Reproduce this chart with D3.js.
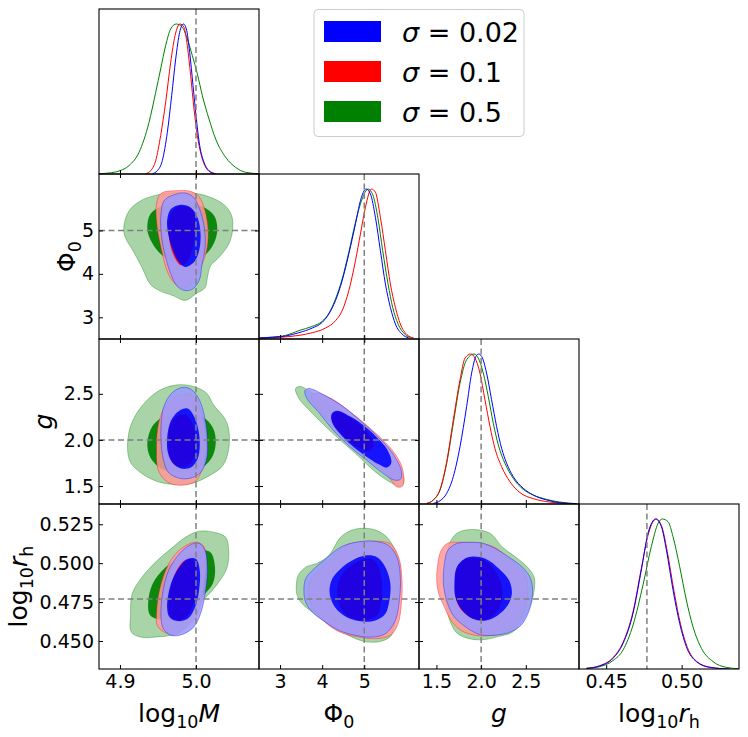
<!DOCTYPE html>
<html lang="en">

<head>
    <meta charset="UTF-8">
    <title>corner</title>
    <script src="https://cdn.jsdelivr.net/npm/d3@7/dist/d3.min.js"></script>
    <style>body { margin: 0; background: #fff; }</style>
</head>

<body>
    <svg width="748" height="737" id="mainsvg"></svg>
    <script>
        // axis limits, truth values and ticks per parameter
        const limits = [[4.8724, 5.0829], [2.50, 6.30], [1.305, 3.095], [0.432, 0.538]];
        const truths = [5.0, 5.0, 2.0, 0.477];
        const xTicks = [[4.9, 5.0], [3, 4, 5], [1.5, 2.0, 2.5], [0.45, 0.50]];
        const xTickLabels = [['4.9', '5.0'], ['3', '4', '5'], ['1.5', '2.0', '2.5'], ['0.45', '0.50']];
        const yTicks = [[], [3, 4, 5], [1.5, 2.0, 2.5], [0.450, 0.475, 0.500, 0.525]];
        const yTickLabels = [[], ['3', '4', '5'], ['1.5', '2.0', '2.5'], ['0.450', '0.475', '0.500', '0.525']];

        const sigmas = ['0.02', '0.1', '0.5'];
        const seriesKeys = ['blue', 'red', 'green'];

        // 1D marginals [value, normalised density]
        const margM = {
            blue: [[4.9426,0.002],[4.9492,0.022],[4.9557,0.089],[4.9623,0.278],[4.9680,0.522],[4.9733,0.767],[4.9785,0.944],[4.9834,1.0],[4.9873,0.967],[4.9917,0.811],[4.9961,0.589],[5.0005,0.367],[5.0049,0.189],[5.0106,0.078],[5.0171,0.022],[5.0259,0.002]],
            red: [[4.9338,0.002],[4.9404,0.022],[4.9470,0.089],[4.9535,0.256],[4.9601,0.478],[4.9667,0.744],[4.9724,0.922],[4.9790,1.0],[4.9842,0.978],[4.9886,0.856],[4.9930,0.656],[4.9974,0.433],[5.0018,0.256],[5.0084,0.1],[5.0149,0.029],[5.0237,0.002]],
            green: [[4.8724,0.002],[4.8856,0.007],[4.8987,0.02],[4.9119,0.056],[4.9250,0.144],[4.9382,0.344],[4.9470,0.544],[4.9535,0.700],[4.9601,0.856],[4.9667,0.967],[4.9742,1.0],[4.9820,0.978],[4.9886,0.9],[4.9952,0.789],[5.0018,0.667],[5.0084,0.522],[5.0171,0.367],[5.0259,0.233],[5.0391,0.111],[5.0522,0.044],[5.0654,0.011],[5.0829,0.002]]
        };
        const margPhi = {
            blue: [[2.500,0.007],[2.816,0.011],[3.132,0.02],[3.448,0.042],[3.764,0.073],[4.001,0.111],[4.159,0.167],[4.317,0.256],[4.475,0.389],[4.633,0.567],[4.791,0.767],[4.909,0.922],[5.043,1.0],[5.146,0.967],[5.265,0.811],[5.383,0.589],[5.502,0.367],[5.620,0.211],[5.739,0.1],[5.897,0.033],[6.055,0.007]],
            red: [[2.500,0.005],[2.974,0.011],[3.448,0.024],[3.764,0.042],[4.080,0.073],[4.317,0.122],[4.475,0.189],[4.633,0.322],[4.791,0.522],[4.909,0.7],[5.028,0.878],[5.170,1.0],[5.265,0.978],[5.383,0.811],[5.502,0.589],[5.620,0.367],[5.739,0.211],[5.857,0.1],[6.015,0.029],[6.173,0.007]],
            green: [[2.500,0.007],[2.816,0.013],[3.132,0.024],[3.448,0.056],[3.764,0.084],[4.001,0.118],[4.159,0.171],[4.317,0.267],[4.475,0.4],[4.633,0.578],[4.791,0.778],[4.949,0.933],[5.091,1.0],[5.202,0.962],[5.328,0.8],[5.438,0.589],[5.565,0.367],[5.675,0.211],[5.802,0.1],[5.960,0.033],[6.118,0.007]]
        };
        const margG = {
            blue: [[1.466,0.004],[1.541,0.022],[1.615,0.071],[1.689,0.183],[1.764,0.383],[1.838,0.650],[1.894,0.873],[1.942,0.984],[1.972,1.0],[2.006,0.984],[2.061,0.873],[2.117,0.695],[2.173,0.517],[2.229,0.372],[2.285,0.272],[2.359,0.183],[2.471,0.105],[2.582,0.060],[2.731,0.027],[2.880,0.009],[3.066,0.002]],
            red: [[1.392,0.004],[1.466,0.027],[1.541,0.098],[1.615,0.283],[1.689,0.561],[1.764,0.828],[1.820,0.973],[1.883,1.0],[1.931,0.973],[1.987,0.873],[2.043,0.695],[2.099,0.517],[2.154,0.372],[2.229,0.249],[2.322,0.149],[2.434,0.076],[2.582,0.036],[2.768,0.013],[2.954,0.004]],
            green: [[1.392,0.004],[1.466,0.027],[1.541,0.094],[1.615,0.272],[1.689,0.539],[1.764,0.806],[1.838,0.962],[1.920,1.0],[1.968,0.973],[2.024,0.873],[2.080,0.717],[2.136,0.539],[2.192,0.394],[2.266,0.272],[2.359,0.171],[2.471,0.098],[2.582,0.060],[2.731,0.031],[2.880,0.013],[3.066,0.002]]
        };
        const margRh = {
            blue: [[0.4369,0.004],[0.4457,0.02],[0.4545,0.071],[0.4612,0.171],[0.4678,0.371],[0.4733,0.66],[0.4777,0.904],[0.4828,1.0],[0.4866,0.949],[0.4899,0.793],[0.4943,0.527],[0.4987,0.304],[0.5031,0.149],[0.5098,0.049],[0.5186,0.011],[0.5318,0.0]],
            red: [[0.4369,0.004],[0.4457,0.022],[0.4545,0.076],[0.4612,0.178],[0.4678,0.382],[0.4733,0.671],[0.4782,0.909],[0.4832,1.0],[0.4870,0.944],[0.4905,0.782],[0.4950,0.516],[0.4994,0.293],[0.5038,0.144],[0.5104,0.047],[0.5193,0.011],[0.5318,0.0]],
            green: [[0.4369,0.004],[0.4457,0.016],[0.4545,0.056],[0.4612,0.127],[0.4678,0.293],[0.4744,0.56],[0.4799,0.816],[0.4844,0.971],[0.4872,1.0],[0.4910,0.982],[0.4943,0.882],[0.4987,0.682],[0.5031,0.46],[0.5075,0.282],[0.5131,0.138],[0.5208,0.049],[0.5296,0.011],[0.5378,0.002]]
        };

        // 2D contours, 2 = 95% level, 1 = 68% level
        const cMPhi = {
            green2: [[4.905,5.068],[4.912,5.453],[4.929,5.700],[4.960,5.853],[4.995,5.861],[5.017,5.777],[5.037,5.592],[5.047,5.338],[5.048,4.991],[5.043,4.683],[5.030,4.375],[5.019,4.183],[5.015,3.914],[5.012,3.683],[5.000,3.544],[4.986,3.390],[4.971,3.490],[4.951,3.621],[4.940,3.760],[4.929,4.144],[4.916,4.568],[4.907,4.837]],
            green1: [[4.936,5.030],[4.940,5.376],[4.954,5.553],[4.982,5.607],[5.008,5.553],[5.024,5.338],[5.028,5.030],[5.024,4.722],[5.013,4.452],[4.995,4.283],[4.969,4.283],[4.954,4.452],[4.942,4.722]],
            red2: [[4.948,5.607],[4.954,5.853],[4.973,5.915],[4.993,5.900],[5.004,5.777],[5.012,5.453],[5.016,4.991],[5.014,4.529],[5.006,4.144],[4.997,3.837],[4.984,3.667],[4.971,3.798],[4.962,4.068],[4.955,4.529],[4.949,5.068]],
            red1: [[4.965,5.299],[4.973,5.520],[4.986,5.560],[4.996,5.453],[4.999,5.068],[4.996,4.606],[4.988,4.270],[4.980,4.200],[4.972,4.376],[4.965,4.760]],
            blue2: [[4.954,5.376],[4.958,5.684],[4.971,5.823],[4.986,5.861],[4.997,5.761],[5.004,5.530],[5.011,5.068],[5.012,4.606],[5.008,4.222],[5.004,3.837],[4.995,3.644],[4.984,3.621],[4.975,3.721],[4.967,3.991],[4.958,4.529],[4.954,4.991]],
            blue1: [[4.962,5.222],[4.967,5.492],[4.980,5.592],[4.993,5.530],[5.002,5.299],[5.006,4.914],[5.004,4.529],[4.997,4.260],[4.986,4.160],[4.978,4.260],[4.970,4.529],[4.964,4.876]]
        };
        const cMg = {
            green2: [[4.910,1.899],[4.914,2.153],[4.929,2.370],[4.951,2.533],[4.973,2.595],[4.993,2.588],[5.013,2.515],[5.024,2.370],[5.037,2.244],[5.043,2.117],[5.043,1.899],[5.035,1.718],[5.017,1.610],[4.995,1.530],[4.969,1.519],[4.947,1.555],[4.927,1.646],[4.914,1.754]],
            green1: [[4.936,1.972],[4.943,2.153],[4.958,2.254],[4.982,2.291],[5.008,2.254],[5.022,2.135],[5.026,1.990],[5.022,1.827],[5.008,1.700],[4.982,1.646],[4.956,1.682],[4.940,1.809]],
            red2: [[4.948,1.899],[4.951,2.189],[4.960,2.370],[4.975,2.479],[4.989,2.497],[5.000,2.443],[5.006,2.316],[5.012,2.117],[5.013,1.863],[5.008,1.682],[5.000,1.555],[4.986,1.512],[4.969,1.519],[4.958,1.573],[4.950,1.682]],
            red1: [[4.964,1.972],[4.966,2.153],[4.975,2.255],[4.986,2.275],[4.994,2.207],[4.999,2.044],[4.999,1.863],[4.993,1.745],[4.982,1.705],[4.971,1.735],[4.965,1.827]],
            blue2: [[4.954,2.153],[4.958,2.370],[4.969,2.515],[4.982,2.570],[4.993,2.552],[5.004,2.443],[5.012,2.225],[5.015,2.008],[5.014,1.791],[5.006,1.646],[4.995,1.591],[4.980,1.581],[4.964,1.646],[4.956,1.827]],
            blue1: [[4.962,2.008],[4.967,2.207],[4.978,2.316],[4.989,2.341],[4.997,2.262],[5.003,2.117],[5.005,1.936],[5.002,1.791],[4.993,1.700],[4.980,1.689],[4.969,1.754],[4.963,1.863]]
        };
        const cMrh = {
            green2: [[4.914,0.4675],[4.916,0.4803],[4.929,0.4910],[4.949,0.5017],[4.967,0.5092],[4.986,0.5166],[5.004,0.5205],[5.024,0.5198],[5.039,0.5166],[5.043,0.5081],[5.041,0.4974],[5.030,0.4878],[5.013,0.4782],[5.002,0.4739],[4.991,0.4621],[4.973,0.4547],[4.947,0.4525],[4.927,0.4525],[4.915,0.4557]],
            green1: [[4.937,0.4739],[4.943,0.4867],[4.960,0.4974],[4.982,0.5038],[5.004,0.5081],[5.019,0.5070],[5.025,0.4974],[5.022,0.4867],[5.008,0.4782],[4.995,0.4696],[4.978,0.4643],[4.956,0.4636],[4.940,0.4664]],
            red2: [[4.948,0.4654],[4.951,0.4803],[4.960,0.4953],[4.973,0.5059],[4.991,0.5124],[5.002,0.5134],[5.011,0.5102],[5.013,0.5006],[5.011,0.4867],[5.006,0.4739],[5.000,0.4654],[4.986,0.4579],[4.971,0.4542],[4.958,0.4557],[4.949,0.4600]],
            red1: [[4.964,0.4718],[4.968,0.4867],[4.976,0.4965],[4.986,0.5020],[4.996,0.5020],[5.001,0.4953],[5.000,0.4824],[4.995,0.4718],[4.986,0.4650],[4.973,0.4636],[4.966,0.4660]],
            blue2: [[4.954,0.4654],[4.956,0.4803],[4.964,0.4953],[4.978,0.5059],[4.993,0.5119],[5.004,0.5128],[5.012,0.5081],[5.015,0.4953],[5.012,0.4803],[5.006,0.4675],[4.997,0.4589],[4.982,0.4542],[4.967,0.4536],[4.957,0.4579]],
            blue1: [[4.962,0.4718],[4.967,0.4867],[4.978,0.4974],[4.989,0.5027],[5.000,0.5027],[5.005,0.4953],[5.004,0.4824],[4.999,0.4718],[4.989,0.4643],[4.975,0.4628],[4.965,0.4654]]
        };
        const cPhig = {
            green2: [[3.369,2.559],[3.487,2.581],[3.685,2.533],[4.080,2.425],[4.475,2.298],[4.870,2.153],[5.265,1.972],[5.660,1.791],[5.897,1.646],[5.936,1.537],[5.818,1.501],[5.620,1.540],[5.265,1.653],[4.870,1.820],[4.475,1.979],[4.080,2.146],[3.685,2.327],[3.448,2.450]],
            green1: [[4.356,2.244],[4.633,2.225],[4.949,2.146],[5.265,2.026],[5.502,1.881],[5.541,1.772],[5.344,1.772],[5.028,1.845],[4.712,1.954],[4.435,2.081],[4.333,2.171]],
            red2: [[3.748,2.486],[3.882,2.508],[4.238,2.443],[4.633,2.316],[5.028,2.171],[5.423,2.008],[5.739,1.845],[5.912,1.682],[5.912,1.501],[5.778,1.490],[5.581,1.602],[5.265,1.747],[4.870,1.907],[4.475,2.073],[4.080,2.254],[3.803,2.388]],
            red1: [[4.238,2.269],[4.356,2.305],[4.633,2.251],[4.909,2.160],[5.146,2.044],[5.225,1.936],[5.107,1.881],[4.870,1.917],[4.593,2.008],[4.254,2.189]],
            blue2: [[3.590,2.533],[3.685,2.559],[4.080,2.479],[4.475,2.370],[4.870,2.225],[5.265,2.062],[5.660,1.863],[5.881,1.664],[5.857,1.573],[5.699,1.566],[5.423,1.646],[5.028,1.791],[4.633,1.936],[4.238,2.117],[3.922,2.298],[3.645,2.443]],
            blue1: [[4.222,2.280],[4.356,2.316],[4.633,2.262],[4.949,2.171],[5.265,2.044],[5.541,1.899],[5.644,1.754],[5.541,1.700],[5.344,1.736],[5.028,1.827],[4.712,1.936],[4.396,2.081],[4.238,2.189]]
        };
        const cPhirh = {
            green2: [[3.385,0.4846],[3.432,0.4921],[3.606,0.4974],[3.882,0.5000],[4.159,0.5049],[4.435,0.5166],[4.712,0.5213],[5.028,0.5224],[5.304,0.5209],[5.541,0.5166],[5.739,0.5081],[5.857,0.4974],[5.857,0.4846],[5.818,0.4739],[5.739,0.4632],[5.644,0.4536],[5.423,0.4500],[5.107,0.4493],[4.791,0.4515],[4.475,0.4557],[4.080,0.4621],[3.764,0.4686],[3.527,0.4739],[3.408,0.4792]],
            green1: [[4.45,0.482],[4.55,0.492],[4.75,0.499],[5.05,0.501],[5.30,0.495],[5.38,0.482],[5.30,0.469],[5.05,0.464],[4.75,0.465],[4.55,0.472]],
            red2: [[3.669,0.4824],[3.724,0.4889],[3.922,0.4953],[4.238,0.5038],[4.554,0.5113],[4.870,0.5134],[5.265,0.5141],[5.620,0.5124],[5.818,0.5038],[5.897,0.4889],[5.881,0.4739],[5.802,0.4611],[5.620,0.4536],[5.265,0.4515],[4.870,0.4525],[4.475,0.4551],[4.159,0.4600],[3.882,0.4675],[3.724,0.4750]],
            red1: [[4.356,0.4814],[4.435,0.4910],[4.633,0.4974],[4.909,0.5017],[5.186,0.5027],[5.344,0.4974],[5.423,0.4867],[5.407,0.4750],[5.304,0.4664],[5.028,0.4636],[4.712,0.4646],[4.475,0.4696]],
            blue2: [[3.566,0.4824],[3.606,0.4899],[3.764,0.4953],[4.080,0.5027],[4.435,0.5102],[4.791,0.5134],[5.225,0.5141],[5.581,0.5113],[5.778,0.5038],[5.857,0.4910],[5.833,0.4760],[5.739,0.4632],[5.502,0.4547],[5.186,0.4525],[4.791,0.4536],[4.396,0.4568],[4.080,0.4621],[3.764,0.4686],[3.606,0.4750]],
            blue1: [[4.175,0.4814],[4.238,0.4899],[4.435,0.4963],[4.712,0.5017],[5.028,0.5049],[5.304,0.5038],[5.502,0.4974],[5.620,0.4867],[5.596,0.4760],[5.502,0.4675],[5.265,0.4632],[4.870,0.4628],[4.514,0.4664],[4.277,0.4728]]
        };
        const cGrh = {
            green2: [[1.589,0.4889],[1.608,0.5006],[1.645,0.5124],[1.719,0.5188],[1.831,0.5213],[1.980,0.5213],[2.110,0.5188],[2.240,0.5102],[2.389,0.5038],[2.519,0.4974],[2.593,0.4910],[2.593,0.4824],[2.556,0.4739],[2.463,0.4632],[2.352,0.4557],[2.203,0.4530],[2.017,0.4508],[1.868,0.4515],[1.738,0.4547],[1.663,0.4611],[1.608,0.4739]],
            green1: [[1.74,0.484],[1.78,0.496],[1.90,0.502],[2.03,0.500],[2.15,0.490],[2.20,0.478],[2.15,0.468],[2.02,0.464],[1.88,0.466],[1.77,0.474]],
            red2: [[1.503,0.4889],[1.515,0.4995],[1.552,0.5081],[1.626,0.5128],[1.756,0.5134],[1.980,0.5128],[2.147,0.5102],[2.296,0.5038],[2.426,0.4974],[2.508,0.4899],[2.519,0.4803],[2.482,0.4696],[2.407,0.4611],[2.277,0.4557],[2.128,0.4536],[1.942,0.4536],[1.775,0.4568],[1.663,0.4632],[1.589,0.4718],[1.526,0.4803]],
            red1: [[1.708,0.4856],[1.724,0.4960],[1.800,0.5018],[1.905,0.5034],[2.035,0.5018],[2.147,0.4960],[2.221,0.4878],[2.240,0.4792],[2.195,0.4707],[2.091,0.4645],[1.942,0.4638],[1.794,0.4690],[1.722,0.4762]],
            blue2: [[1.578,0.4867],[1.589,0.4995],[1.626,0.5081],[1.719,0.5124],[1.868,0.5134],[2.017,0.5128],[2.166,0.5092],[2.314,0.5038],[2.463,0.4974],[2.556,0.4899],[2.575,0.4803],[2.538,0.4696],[2.445,0.4600],[2.296,0.4551],[2.128,0.4536],[1.980,0.4542],[1.831,0.4589],[1.701,0.4654],[1.626,0.4739]],
            blue1: [[1.701,0.4867],[1.727,0.4974],[1.812,0.5027],[1.905,0.5042],[2.054,0.5027],[2.203,0.4963],[2.314,0.4889],[2.344,0.4803],[2.296,0.4728],[2.184,0.4664],[2.054,0.4632],[1.905,0.4643],[1.775,0.4707],[1.712,0.4782]]
        };

        const marginals = [margM, margPhi, margG, margRh];
        const contours = { '1,0': cMPhi, '2,0': cMg, '3,0': cMrh, '2,1': cPhig, '3,1': cPhirh, '3,2': cGrh };

        const lineColor = { blue: '#0000ff', red: '#ff0000', green: '#008000' };
        const lightColor = { blue: '#9999ff', red: '#ff9999', green: '#99cc99' };
        // fill order: green, red outer, blue outer, red inner, blue inner
        const layers = ['green2', 'green1', 'red2', 'blue2', 'red1', 'blue1'];

        const svg = d3.select('#mainsvg');
        const left0 = 99, top0 = 9, pw = 160, ph = 165;
        const font = 'DejaVu Sans, sans-serif';

        const xs = limits.map((d, i) => d3.scaleLinear().domain(d).range([left0 + i * pw, left0 + (i + 1) * pw]));
        const ys = limits.map((d, j) => d3.scaleLinear().domain(d).range([top0 + (j + 1) * ph, top0 + j * ph]));
        const yMarg = j => d3.scaleLinear().domain([0, 1.1]).range([top0 + (j + 1) * ph, top0 + j * ph]);

        const defs = svg.append('defs');

        function dashed(g, x1, y1, x2, y2) {
            g.append('line').attr('x1', x1).attr('y1', y1).attr('x2', x2).attr('y2', y2)
                .attr('stroke', '#808080').attr('stroke-width', 1.5).attr('stroke-dasharray', '6,3.5');
        }

        for (let j = 0; j < 4; j++) {
            for (let i = 0; i <= j; i++) {
                const x = xs[i];
                const px0 = left0 + i * pw, py0 = top0 + j * ph;
                defs.append('clipPath').attr('id', `clip${i}${j}`)
                    .append('rect').attr('x', px0).attr('y', py0).attr('width', pw).attr('height', ph);
                const g = svg.append('g').attr('clip-path', `url(#clip${i}${j})`);

                if (i === j) {
                    // 1D marginal
                    const y = yMarg(j);
                    const line = d3.line().x(d => x(d[0])).y(d => y(d[1])).curve(d3.curveMonotoneX);
                    ['green', 'red', 'blue'].forEach(k => {
                        g.append('path').attr('d', line(marginals[i][k]))
                            .attr('fill', 'none').attr('stroke', lineColor[k]).attr('stroke-width', 1);
                    });
                    dashed(g, x(truths[i]), py0, x(truths[i]), py0 + ph);
                } else {
                    const y = ys[j];
                    const c = contours[`${j},${i}`];
                    const shape = d3.line().x(d => x(d[0])).y(d => y(d[1])).curve(d3.curveCatmullRomClosed.alpha(0.5));
                    layers.forEach(name => {
                        const k = name.slice(0, -1);
                        const outer = name.endsWith('2');
                        const p = g.append('path').attr('d', shape(c[name]));
                        if (outer) {
                            p.attr('fill', lightColor[k]).attr('fill-opacity', 0.85)
                                .attr('stroke', lineColor[k]).attr('stroke-opacity', 0.45).attr('stroke-width', 0.8);
                        } else {
                            p.attr('fill', lineColor[k]).attr('fill-opacity', k === 'blue' ? 0.87 : 0.92);
                        }
                    });
                    dashed(g, x(truths[i]), py0, x(truths[i]), py0 + ph);
                    dashed(g, px0, y(truths[j]), px0 + pw, y(truths[j]));
                }

                // axes: inward ticks
                const ax = svg.append('g');
                const xb = d3.axisBottom(x).tickValues(xTicks[i]).tickSizeInner(-4).tickSizeOuter(0).tickPadding(6)
                    .tickFormat((d, k) => j === 3 ? xTickLabels[i][k] : '');
                ax.append('g').attr('transform', `translate(0,${py0 + ph})`).call(xb);
                if (i !== j) {
                    ax.append('g').attr('transform', `translate(0,${py0})`)
                        .call(d3.axisTop(x).tickValues(xTicks[i]).tickSizeInner(-4).tickSizeOuter(0).tickFormat(''));
                    const yl = d3.axisLeft(ys[j]).tickValues(yTicks[j]).tickSizeInner(-4).tickSizeOuter(0).tickPadding(5)
                        .tickFormat((d, k) => i === 0 ? yTickLabels[j][k] : '');
                    ax.append('g').attr('transform', `translate(${px0},0)`).call(yl);
                    ax.append('g').attr('transform', `translate(${px0 + pw},0)`)
                        .call(d3.axisRight(ys[j]).tickValues(yTicks[j]).tickSizeInner(-4).tickSizeOuter(0).tickFormat(''));
                }
                ax.selectAll('.domain').remove();
                ax.selectAll('.tick line').attr('stroke', '#000').attr('stroke-width', 1);
                ax.selectAll('.tick text').attr('font-family', font).attr('font-size', 19).attr('fill', '#000');

                svg.append('rect').attr('x', px0).attr('y', py0).attr('width', pw).attr('height', ph)
                    .attr('fill', 'none').attr('stroke', '#000').attr('stroke-width', 1.1);
            }
        }

        // mathtext-like labels
        const labelParts = [
            [{ t: 'log' }, { t: '10', sub: true }, { t: 'M', it: true }],
            [{ t: 'Φ' }, { t: '0', sub: true }],
            [{ t: 'g', it: true }],
            [{ t: 'log' }, { t: '10', sub: true }, { t: 'r', it: true }, { t: 'h', sub: true }]
        ];
        function mathText(sel, parts, size) {
            const t = sel.append('text').attr('font-family', font).attr('font-size', size)
                .attr('text-anchor', 'middle').attr('fill', '#000');
            let shift = 0;
            parts.forEach(p => {
                const target = p.sub ? size * 0.22 : 0;
                t.append('tspan').text(p.t)
                    .attr('dy', target - shift)
                    .attr('font-size', p.sub ? size * 0.7 : size)
                    .attr('font-style', p.it ? 'italic' : 'normal');
                shift = target;
            });
            return t;
        }
        const labelSize = 25;
        for (let i = 0; i < 4; i++) {
            const g = svg.append('g').attr('transform', `translate(${left0 + i * pw + pw / 2},722)`);
            mathText(g, labelParts[i], labelSize);
        }
        const yLabelX = [0, 75, 52, 27];
        for (let j = 1; j < 4; j++) {
            const g = svg.append('g').attr('transform', `translate(${yLabelX[j]},${top0 + j * ph + ph / 2}) rotate(-90)`);
            mathText(g, labelParts[j], labelSize);
        }

        // legend
        const lg = svg.append('g');
        lg.append('rect').attr('x', 314).attr('y', 9.5).attr('width', 210).attr('height', 127).attr('rx', 4)
            .attr('fill', '#fff').attr('fill-opacity', 0.8).attr('stroke', '#cccccc').attr('stroke-width', 1);
        seriesKeys.forEach((k, n) => {
            lg.append('rect').attr('x', 324).attr('y', 21 + n * 40).attr('width', 57).attr('height', 21)
                .attr('fill', lineColor[k]);
            const t = lg.append('text').attr('x', 402).attr('y', 42 + n * 40)
                .attr('font-family', font).attr('font-size', 27).attr('fill', '#000');
            t.append('tspan').attr('font-style', 'italic').text('σ');
            t.append('tspan').text(' = ' + sigmas[n]);
        });
    </script>
</body>

</html>
